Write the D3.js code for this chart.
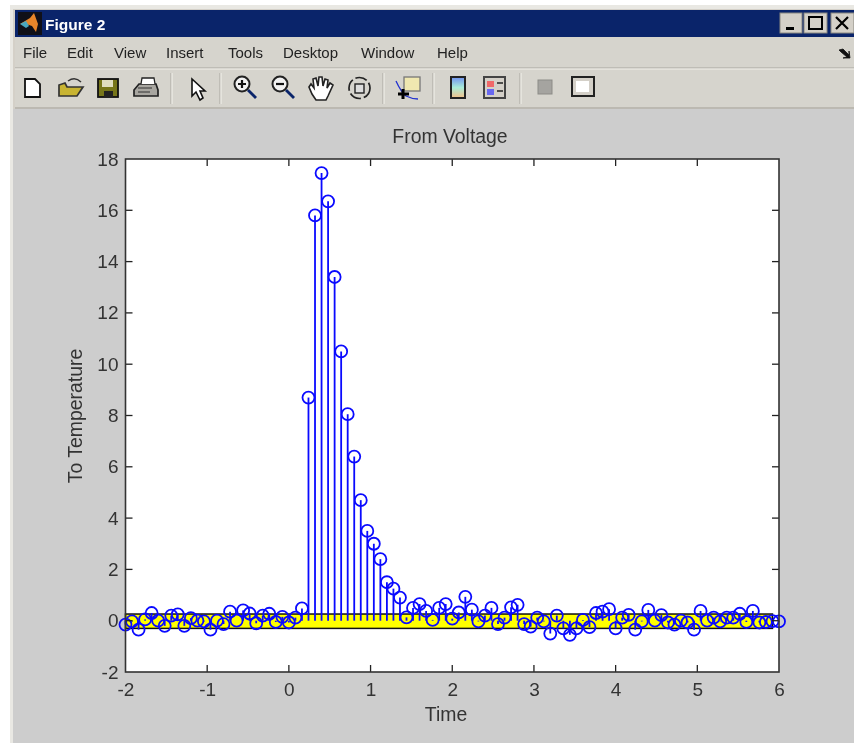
<!DOCTYPE html>
<html>
<head>
<meta charset="utf-8">
<title>Figure 2</title>
<script src="https://cdn.jsdelivr.net/npm/d3@7"></script>
<style>
html, body { margin: 0; padding: 0; background: #fff; }
svg { display: block; filter: blur(0.45px); }
text { font-family: "Liberation Sans", Arial, sans-serif; }
</style>
</head>
<body>
<svg id="fig" width="854" height="743"></svg>
<script>
// impulse response
var timeValues = [
	-2, -1.92, -1.84, -1.76, -1.68, -1.6, -1.52, -1.44, -1.36, -1.28,
	-1.2, -1.12, -1.04, -0.96, -0.88, -0.8, -0.72, -0.64, -0.56, -0.48,
	-0.4, -0.32, -0.24, -0.16, -0.08, 0, 0.08, 0.16, 0.24, 0.32,
	0.4, 0.48, 0.56, 0.64, 0.72, 0.8, 0.88, 0.96, 1.04, 1.12,
	1.2, 1.28, 1.36, 1.44, 1.52, 1.6, 1.68, 1.76, 1.84, 1.92,
	2, 2.08, 2.16, 2.24, 2.32, 2.4, 2.48, 2.56, 2.64, 2.72,
	2.8, 2.88, 2.96, 3.04, 3.12, 3.2, 3.28, 3.36, 3.44, 3.52,
	3.6, 3.68, 3.76, 3.84, 3.92, 4, 4.08, 4.16, 4.24, 4.32,
	4.4, 4.48, 4.56, 4.64, 4.72, 4.8, 4.88, 4.96, 5.04, 5.12,
	5.2, 5.28, 5.36, 5.44, 5.52, 5.6, 5.68, 5.76, 5.84, 5.92, 6
];
var responseValues = [
	-0.15, -0.03, -0.35, 0.05, 0.3, 0, -0.2, 0.2, 0.25, -0.2,
	0.1, 0, -0.03, -0.35, 0, -0.13, 0.35, 0, 0.4, 0.28,
	-0.1, 0.2, 0.27, -0.05, 0.15, -0.07, 0.12, 0.48, 8.7, 15.8,
	17.45, 16.35, 13.4, 10.5, 8.05, 6.4, 4.7, 3.5, 3.0, 2.4,
	1.5, 1.25, 0.9, 0.13, 0.5, 0.65, 0.38, 0.03, 0.5, 0.65,
	0.08, 0.32, 0.93, 0.43, -0.03, 0.2, 0.5, -0.13, 0.12, 0.52,
	0.62, -0.13, -0.23, 0.12, -0.03, -0.5, 0.2, -0.3, -0.55, -0.3,
	0.03, -0.25, 0.3, 0.35, 0.45, -0.3, 0.12, 0.23, -0.35, -0.03,
	0.42, 0, 0.22, -0.07, -0.15, 0, -0.07, -0.35, 0.38, 0,
	0.12, -0.03, 0.12, 0.12, 0.27, -0.05, 0.38, -0.07, -0.05, -0.02, -0.03
];
var xTicks = [-2, -1, 0, 1, 2, 3, 4, 5, 6];
var yTicks = [-2, 0, 2, 4, 6, 8, 10, 12, 14, 16, 18];
var confidenceBand = [-0.3, 0.26];
var bandEnd = 5.92;
var menuItems = ["File", "Edit", "View", "Insert", "Tools", "Desktop", "Window", "Help"];
var menuX = [23, 67, 114, 166, 228, 283, 361, 437];

var svg = d3.select("#fig");

function box(x, y, w, h, fill, stroke, sw) {
	return svg.append("rect").attr("x", x).attr("y", y).attr("width", w).attr("height", h)
		.attr("fill", fill).attr("stroke", stroke || "none").attr("stroke-width", sw || 1);
}
function hline(y, x1, x2, col) {
	svg.append("line").attr("x1", x1).attr("x2", x2).attr("y1", y).attr("y2", y).attr("stroke", col).attr("stroke-width", 1);
}
function vsep(x) {
	svg.append("line").attr("x1", x).attr("x2", x).attr("y1", 73).attr("y2", 104).attr("stroke", "#a8a69f").attr("stroke-width", 1);
	svg.append("line").attr("x1", x + 1).attr("x2", x + 1).attr("y1", 73).attr("y2", 104).attr("stroke", "#f4f3ee").attr("stroke-width", 1);
}
function path(d, fill, stroke, sw) {
	return svg.append("path").attr("d", d).attr("fill", fill).attr("stroke", stroke || "none").attr("stroke-width", sw || 1);
}

// window frame
box(0, 0, 854, 743, "#ffffff");
box(10, 5, 844, 738, "#e9e8e3");
box(13, 9, 841, 734, "#d4d0c8");
box(15, 10, 839, 27, "#0a246a");
box(15, 37, 839, 31, "#d6d4cd");
box(15, 70, 839, 37, "#d6d4cd");
hline(68, 15, 854, "#a8a69f");
hline(69, 15, 854, "#f4f3ee");
hline(108, 15, 854, "#a4a29b");
box(13, 109, 841, 634, "#cdcdcd");

// title bar
box(18, 12, 24, 23, "#101018");
path("M20,24 L30,18 L34,13 L38,24 L36,32 L32,26 L26,24 Z", "#e8862a");
path("M20,24 L26,21 L29,26 L26,28 Z", "#4aa8c0");
svg.append("text").attr("x", 45).attr("y", 30).attr("fill", "#fff").attr("font-size", 15.5).attr("font-weight", "bold").text("Figure 2");

[[780, 22], [804, 23], [831, 23]].forEach(function(b) {
	box(b[0], 13, b[1], 20, "#d4d0c8", "#8a8880");
});
box(786, 27, 8, 3, "#000");
box(809, 17, 13, 12, "none", "#000", 2);
path("M836,17 L848,29 M848,17 L836,29", "none", "#000", 2.2);

// menu
svg.selectAll(".menu").data(menuItems).enter().append("text").attr("class", "menu")
	.attr("x", (d, i) => menuX[i]).attr("y", 58).attr("fill", "#222").attr("font-size", 15)
	.text(d => d);
path("M839,50 L843,49 L849,55 L849,51 L850,58 L843,58 L847,57 L841,52 Z", "#111", "#111", 0.8);

// toolbar icons
path("M25,79 L35,79 L40,84 L40,97 L25,97 Z", "#fff", "#111", 1.8);
path("M59,85 L59,96 L77,96 L83,87 L67,87 L65,83 Z", "#c8b432", "#333", 1.7);
path("M68,81 Q75,76 81,82", "none", "#333", 1.5);
box(98, 79, 20, 18, "#77761a", "#111", 1.8);
box(102, 80, 11, 7, "#e0ddc0");
box(104, 91, 9, 6, "#222");
path("M134,90 L139,84 L156,84 L158,90 L158,96 L134,96 Z", "#a8a6a0", "#222", 1.7);
path("M141,84 L142,78 L154,78 L155,84", "#fff", "#222", 1.3);
path("M138,88 L152,88 M138,92 L150,92", "none", "#333", 1.2);
vsep(171);
path("M192,79 L192,96 L196,92 L200,100 L203,98 L200,91 L205,91 Z", "#fff", "#111", 1.6);
vsep(220);
[242, 280].forEach(function(cx, i) {
	svg.append("circle").attr("cx", cx).attr("cy", 84).attr("r", 7.5).attr("fill", "#f2f2f2").attr("stroke", "#222").attr("stroke-width", 2);
	path("M" + (cx + 6) + ",90 L" + (cx + 14) + ",98", "none", "#0a246a", 2.8);
	path("M" + (cx - 4) + ",84 L" + (cx + 4) + ",84" + (i == 0 ? " M" + cx + ",80 L" + cx + ",88" : ""), "none", "#111", 2.2);
});
path("M309,87 L311,84 L314,88 L313,79 L316,78 L318,86 L319,77 L322,77 L323,86 L325,79 L328,80 L327,88 L330,83 L333,85 L328,96 L326,100 L316,100 L312,94 Z", "#fff", "#222", 1.6);
svg.append("circle").attr("cx", 359.5).attr("cy", 88).attr("r", 10.5).attr("fill", "none").attr("stroke", "#222").attr("stroke-width", 1.7).attr("stroke-dasharray", "12 3");
box(355, 84, 9, 9, "#ddd", "#222", 1.4);
vsep(383);
path("M396,81 Q401,92 406,96 Q412,99 418,99", "none", "#2030d0", 1.3);
box(404, 77, 16, 14, "#f0e8b0", "#777", 1.3);
path("M403,89 L403,99 M398,94 L409,94", "none", "#000", 3);
vsep(433);
svg.append("defs").append("linearGradient").attr("id", "cbar").attr("x1", 0).attr("x2", 0).attr("y1", 0).attr("y2", 1)
	.selectAll("stop").data([["0%", "#7090f0"], ["50%", "#a8ecd8"], ["100%", "#f4c088"]]).enter().append("stop")
	.attr("offset", d => d[0]).attr("stop-color", d => d[1]);
box(451, 77, 14, 21, "url(#cbar)", "#222", 2);
box(484, 77, 21, 21, "#d4d0c8", "#444", 2);
box(487, 81, 7, 6, "#f06868");
box(487, 89, 7, 6, "#6868f0");
path("M497,83 L503,83 M497,91 L503,91", "none", "#222", 1.5);
vsep(520);
box(538, 80, 14, 14, "#a5a4a0", "#8c8b87", 1);
box(572, 77, 22, 19, "#d4d0c8", "#222", 2);
box(576, 81, 13, 11, "#fff");

// axes area
var margin = { left: 125.5, right: 779, top: 159, bottom: 672 };
var xScale = d3.scaleLinear().domain([-2, 6]).range([margin.left, margin.right]);
var yScale = d3.scaleLinear().domain([-2, 18]).range([margin.bottom, margin.top]);

box(margin.left, margin.top, margin.right - margin.left, margin.bottom - margin.top, "#fff");

// confidence region
svg.append("rect")
	.attr("x", xScale(-2)).attr("y", yScale(confidenceBand[1]))
	.attr("width", xScale(bandEnd) - xScale(-2))
	.attr("height", yScale(confidenceBand[0]) - yScale(confidenceBand[1]))
	.attr("fill", "#ffff00").attr("stroke", "#111").attr("stroke-width", 1.5);

// stems
svg.selectAll(".stem").data(responseValues).enter().append("line").attr("class", "stem")
	.attr("x1", (d, i) => xScale(timeValues[i])).attr("x2", (d, i) => xScale(timeValues[i]))
	.attr("y1", yScale(0)).attr("y2", d => yScale(d))
	.attr("stroke", "#0a0aff").attr("stroke-width", 1.8);
svg.selectAll(".dot").data(responseValues).enter().append("circle").attr("class", "dot")
	.attr("cx", (d, i) => xScale(timeValues[i])).attr("cy", d => yScale(d)).attr("r", 6)
	.attr("fill", "none").attr("stroke", "#0a0aff").attr("stroke-width", 1.8);

// box and ticks
var xAxis = d3.axisBottom(xScale).tickValues(xTicks).tickSize(0).tickPadding(11).tickFormat(d3.format("d"));
var yAxis = d3.axisLeft(yScale).tickValues(yTicks).tickSize(0).tickPadding(7).tickFormat(d3.format("d"));
var gx = svg.append("g").attr("transform", "translate(0," + margin.bottom + ")").call(xAxis);
var gy = svg.append("g").attr("transform", "translate(" + margin.left + ",0)").call(yAxis);
[gx, gy].forEach(function(g) {
	g.select(".domain").remove();
	g.selectAll("text").attr("font-size", 19).attr("fill", "#333").attr("font-family", "Liberation Sans, Arial, sans-serif")
		.text(d => d < 0 ? "-" + Math.abs(d) : d);
});
xTicks.slice(1, -1).forEach(function(t) {
	svg.append("line").attr("x1", xScale(t)).attr("x2", xScale(t)).attr("y1", margin.bottom).attr("y2", margin.bottom - 7).attr("stroke", "#222").attr("stroke-width", 1.3);
	svg.append("line").attr("x1", xScale(t)).attr("x2", xScale(t)).attr("y1", margin.top).attr("y2", margin.top + 7).attr("stroke", "#222").attr("stroke-width", 1.3);
});
yTicks.slice(1, -1).forEach(function(t) {
	svg.append("line").attr("x1", margin.left).attr("x2", margin.left + 7).attr("y1", yScale(t)).attr("y2", yScale(t)).attr("stroke", "#222").attr("stroke-width", 1.3);
	svg.append("line").attr("x1", margin.right).attr("x2", margin.right - 7).attr("y1", yScale(t)).attr("y2", yScale(t)).attr("stroke", "#222").attr("stroke-width", 1.3);
});
box(margin.left, margin.top, margin.right - margin.left, margin.bottom - margin.top, "none", "#333", 1.6);

// labels
svg.append("text").attr("x", 450).attr("y", 143).attr("text-anchor", "middle").attr("font-size", 19.4).attr("fill", "#333").text("From Voltage");
svg.append("text").attr("x", 446).attr("y", 721).attr("text-anchor", "middle").attr("font-size", 19.4).attr("fill", "#333").text("Time");
svg.append("text").attr("transform", "translate(82,416) rotate(-90)").attr("text-anchor", "middle").attr("font-size", 19.4).attr("fill", "#333").text("To Temperature");
</script>
</body>
</html>
